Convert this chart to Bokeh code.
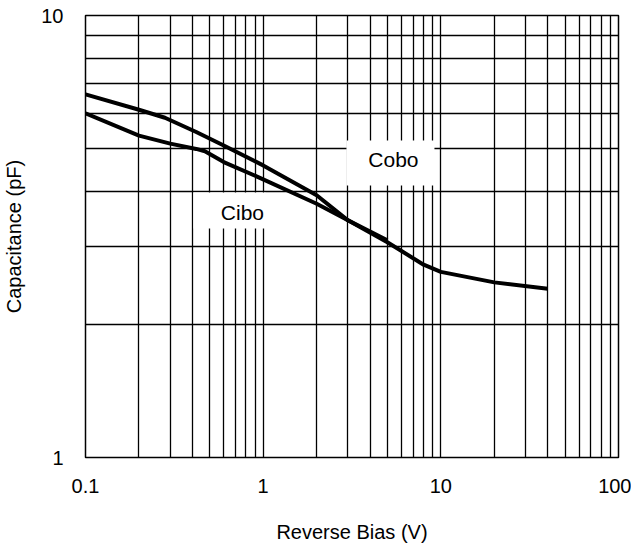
from bokeh.plotting import figure
from bokeh.models import Range1d, FixedTicker, CustomJSTickFormatter, ColumnDataSource
from bokeh.core.properties import value
from bokeh.embed import file_html
from bokeh.resources import INLINE

# Data
cobo_v = [0.1, 0.2, 0.28, 0.42, 0.6, 1.0, 2.0, 3.0, 5.0, 8.0, 10, 20, 40]
cobo_c = [6.63, 6.12, 5.87, 5.45, 5.08, 4.58, 3.92, 3.44, 3.07, 2.73, 2.63, 2.49, 2.41]
cibo_v = [0.1, 0.2, 0.3, 0.42, 0.47, 0.6, 1.0, 2.0, 3.0, 5.0]
cibo_c = [6.01, 5.35, 5.13, 4.99, 4.93, 4.66, 4.26, 3.75, 3.44, 3.10]

x_major = [0.1, 1, 10, 100]
x_minor = [0.2, 0.3, 0.4, 0.5, 0.6, 0.7, 0.8, 0.9,
           2, 3, 4, 5, 6, 7, 8, 9,
           20, 30, 40, 50, 60, 70, 80, 90]
y_major = [1, 10]
y_minor = [2, 3, 4, 5, 6, 7, 8, 9]

label_names = ["Cibo", "Cobo"]
label_x = [0.7646, 5.41]
label_y = [3.584, 4.724]
box_x = [0.6462, 5.205]
box_y = [3.62, 4.638]
box_w = [72, 88]
box_h = [36, 45]

FONT = "Liberation Sans"

p = figure(width=622, height=545, x_axis_type="log", y_axis_type="log",
           x_range=Range1d(0.1, 100), y_range=Range1d(1, 10),
           output_backend="svg", toolbar_location=None,
           min_border_left=76, min_border_right=13, min_border_top=15, min_border_bottom=88)
p.frame_width = 533
p.frame_height = 442

p.background_fill_color = "white"
p.border_fill_color = "white"
p.outline_line_color = "black"
p.outline_line_width = 1.5
p.outline_line_alpha = 1.0

fmt = CustomJSTickFormatter(code="return tick.toString();")
p.xaxis.ticker = FixedTicker(ticks=x_major, minor_ticks=x_minor)
p.yaxis.ticker = FixedTicker(ticks=y_major, minor_ticks=y_minor)
p.xaxis.formatter = fmt
p.yaxis.formatter = fmt

for ax in (p.xaxis, p.yaxis):
    ax.axis_line_color = None
    ax.major_tick_line_color = None
    ax.minor_tick_line_color = None
    ax.major_tick_out = 0
    ax.major_tick_in = 0
    ax.minor_tick_out = 0
    ax.minor_tick_in = 0
    ax.major_label_text_font = FONT
    ax.major_label_text_font_size = "20px"
    ax.major_label_text_color = "black"
    ax.axis_label_text_font = FONT
    ax.axis_label_text_font_size = "20px"
    ax.axis_label_text_font_style = "normal"
    ax.axis_label_text_color = "black"

p.xaxis.axis_label = "Reverse Bias (V)"
p.yaxis.axis_label = "Capacitance (pF)"
p.xaxis.major_label_standoff = 21
p.yaxis.major_label_standoff = 22
p.xaxis.axis_label_standoff = 25
p.yaxis.axis_label_standoff = 13

for g in (p.xgrid, p.ygrid):
    g.grid_line_color = "black"
    g.grid_line_width = 1.3
    g.grid_line_alpha = 1.0
    g.minor_grid_line_color = "black"
    g.minor_grid_line_width = 1.3
    g.minor_grid_line_alpha = 1.0
p.xgrid.ticker = p.xaxis[0].ticker
p.ygrid.ticker = p.yaxis[0].ticker

p.line(cobo_v, cobo_c, line_color="black", line_width=4, line_join="round")
p.line(cibo_v, cibo_c, line_color="black", line_width=4, line_join="round")

boxes = ColumnDataSource(dict(x=box_x, y=box_y, w=box_w, h=box_h))
p.rect(x="x", y="y", width="w", height="h", width_units="screen", height_units="screen",
       source=boxes, fill_color="white", line_color=None)

labels = ColumnDataSource(dict(x=label_x, y=label_y, t=label_names))
p.text(x="x", y="y", text="t", source=labels, text_align="center", text_baseline="middle",
       text_font=value(FONT), text_font_size="21px", text_color="black")

open("out.html", "w").write(file_html(p, INLINE))
